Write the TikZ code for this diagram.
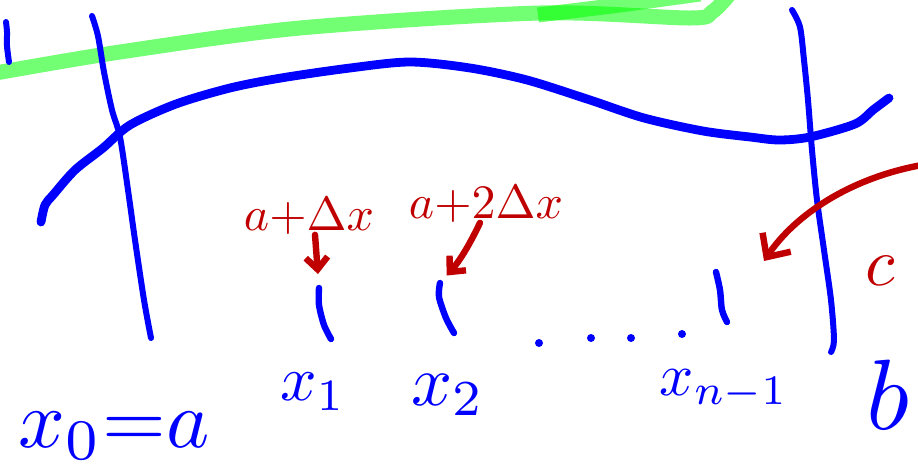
\documentclass[tikz,border=0pt]{standalone}
\usetikzlibrary{arrows.meta}

\definecolor{inkblue}{RGB}{0,0,255}
\definecolor{inkred}{RGB}{192,0,0}
\definecolor{inkgreen}{RGB}{0,255,0}

\newcommand{\sketchlabel}[2]{\scalebox{#1}{$#2$}}

\begin{document}
\begin{tikzpicture}[x=0.5pt,y=-0.5pt]

    \tikzstyle{ink}+=[
        inkblue,
        line width = 3pt,
        line cap=round,
        line join=round
    ]
    \tikzstyle{graphink}+=[
        ink,
        line width = 4.4pt
    ]
    \tikzstyle{tickink}+=[
        ink,
        line width = 3.2pt
    ]
    \tikzstyle{marker}+=[
        inkgreen,
        opacity=0.55,
        line width = 7.5pt,
        line join=round
    ]
    \tikzstyle{redarrow}+=[
        inkred,
        line width = 3.2pt,
        line cap=round,
        line join=round,
        -{Straight Barb[length=6pt,width=11pt]}
    ]
    \tikzstyle{bluelabel}+=[
        text=inkblue,
        inner sep=0pt
    ]
    \tikzstyle{redlabel}+=[
        text=inkred,
        inner sep=0pt
    ]

    \useasboundingbox (0,0) rectangle (918,472);

    % ----------------------------------------------------------------------------
    \coordinate(t1) at (319,288);
    \coordinate(t2) at (440,283);
    \coordinate(cstart) at (922,165);
    \coordinate(ctip) at (764,261);

    % ----------------------------------------------------------------------------
    \draw[marker,line cap=round] plot[smooth] coordinates {(-10,74) (120,52) (300,28) (540,13) (690,18) (712,12) (728,-4)};
    \draw[marker,line cap=butt] (538,15) -- (620,5) -- (700,-6);

    % ----------------------------------------------------------------------------
    \draw[ink] plot[smooth] coordinates {(6,22) (7,32) (7,46) (9,62)};
    \draw[ink] plot[smooth] coordinates {(92,16) (98,36) (104,72) (112,110) (120,137) (128,190) (135,240) (144,300) (151,338)};
    \draw[ink] plot[smooth] coordinates {(792,10) (800,27) (804,60) (808,100) (812,150) (817,200) (824,250) (831,300) (834,340) (831,352)};
    \draw[graphink] plot[smooth] coordinates {(41,222) (45,205) (53,195) (75,170) (103,148) (130,125) (176,104) (230,88) (281,78) (350,68) (410,62) (470,68) (527,80) (590,100) (644,118) (703,131) (750,137) (779,140) (810,137) (855,124) (873,110) (889,98)};

    % ----------------------------------------------------------------------------
    \draw[tickink] plot[smooth] coordinates {(t1) (319,305) (324,325) (331,339)};
    \draw[tickink] plot[smooth] coordinates {(t2) (439,297) (446,318) (454,333)};
    \draw[tickink] plot[smooth] coordinates {(716,272) (720,290) (722,310) (727,322)};
    \foreach \dx/\dy in {539/343, 591/338, 631/338, 682/334}
        \fill[inkblue] (\dx,\dy) circle (4);

    % ----------------------------------------------------------------------------
    \node[bluelabel] (xone) at (313,392) {\sketchlabel{3.2}{x_1}};
    \node[bluelabel] (xtwo) at (448,395) {\sketchlabel{3.6}{x_2}};
    \node[bluelabel] (xlast) at (724,390) {\sketchlabel{3.0}{x_{n-1}}};
    \node[bluelabel] (xzero) at (114,436) {\sketchlabel{4.1}{x_0{=}a}};
    \node[bluelabel] (bend) at (888,395) {\sketchlabel{5.0}{b}};
    \node[redlabel] (lab1) at (309,216) {\sketchlabel{2.4}{a{+}\Delta x}};
    \node[redlabel] (lab2) at (486,204) {\sketchlabel{2.4}{a{+}2\Delta x}};
    \node[redlabel] (cmark) at (880,271) {\sketchlabel{3.4}{c}};

    % ----------------------------------------------------------------------------
    \draw[redarrow,shorten >=7pt] ([xshift=3pt]lab1.south) -- (t1);
    \draw[redarrow,shorten >=5pt] ([xshift=-3pt]lab2.south) to[bend left=8] (t2);
    \draw[redarrow,-{Straight Barb[length=9pt,width=17pt]}] (cstart) .. controls (850,178) and (795,215) .. (ctip);

\end{tikzpicture}
\end{document}
